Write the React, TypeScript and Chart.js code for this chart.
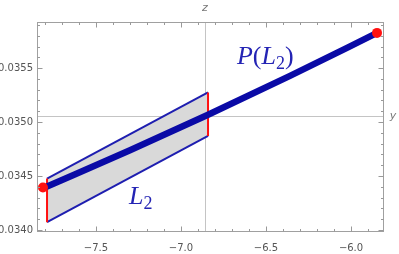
import React, { useEffect, useRef } from 'react';
import { Chart, registerables } from 'chart.js';

Chart.register(...registerables);

// ---- data ----
const xRange = [-7.847, -5.806];
const yRange = [0.033982, 0.035927];
const xTickVals = [-7.5, -7.0, -6.5, -6.0];
const yTickVals = [0.034, 0.0345, 0.035, 0.0355];

// parallelogram L2 corners: top-left, top-right, bottom-right, bottom-left
const polyX = [-7.788, -6.841, -6.841, -7.788];
const polyY = [0.034477, 0.035275, 0.034872, 0.034073];

// projected curve P(L2)
const curveX = [-7.788, -7.3, -6.841, -6.359, -5.847];
const curveY = [0.034404, 0.034739, 0.035068, 0.035428, 0.035826];

// red end points
const dotX = [-7.812, -5.847];
const dotY = [0.034394, 0.035826];

// axes origin (where the gray axis lines cross)
const originX = -6.859;
const originY = 0.03506;

// label anchors (data coords)
const labelPX = -6.671;
const labelPY = 0.035541;
const labelLX = -7.306;
const labelLY = 0.034239;

const BLUE = '#0a0aa6';
const EDGE_BLUE = '#1e1eb0';
const TEXT_BLUE = '#2424b4';
const RED = '#ff1010';

const pts = (xs: number[], ys: number[]) => xs.map((x, i) => ({ x, y: ys[i] }));

export default function App() {
  const ref = useRef<HTMLCanvasElement>(null);
  useEffect(() => {
    const canvas = ref.current!;
    const overlay = {
      id: 'overlay',
      beforeDatasetsDraw(chart: any) {
        const { ctx, chartArea: a, scales } = chart;
        const sx = scales.x, sy = scales.y;
        ctx.save();
        ctx.strokeStyle = '#c4c4c4';
        ctx.lineWidth = 1;
        const ox = Math.round(sx.getPixelForValue(originX)) + 0.5;
        const oy = Math.round(sy.getPixelForValue(originY)) + 0.5;
        ctx.beginPath();
        ctx.moveTo(ox, a.top);
        ctx.lineTo(ox, a.bottom);
        ctx.moveTo(a.left, oy);
        ctx.lineTo(a.right, oy);
        ctx.stroke();
        ctx.restore();
      },
      afterDraw(chart: any) {
        const { ctx, chartArea: a, scales } = chart;
        const sx = scales.x, sy = scales.y;
        ctx.save();
        // frame
        ctx.strokeStyle = '#a0a0a0';
        ctx.lineWidth = 1;
        const L = Math.round(a.left) + 0.5, R = Math.round(a.right) - 0.5;
        const T = Math.round(a.top) + 0.5, B = Math.round(a.bottom) - 0.5;
        ctx.strokeRect(L, T, R - L, B - T);
        // ticks
        ctx.strokeStyle = '#999';
        ctx.beginPath();
        for (let i = -79; i <= -58; i++) {
          const v = i / 10;
          const px = Math.round(sx.getPixelForValue(v)) + 0.5;
          if (px < L || px > R) continue;
          const major = i % 5 === 0;
          const len = major ? 5 : 2.5;
          ctx.moveTo(px, B); ctx.lineTo(px, B - len);
          ctx.moveTo(px, T); ctx.lineTo(px, T + len);
        }
        for (let i = 340; i <= 359; i++) {
          const v = i / 10000;
          const py = Math.round(sy.getPixelForValue(v)) + 0.5;
          if (py < T || py > B) continue;
          const major = i % 5 === 0;
          const len = major ? 5 : 2.5;
          ctx.moveTo(L, py); ctx.lineTo(L + len, py);
          ctx.moveTo(R, py); ctx.lineTo(R - len, py);
        }
        ctx.stroke();
        // axis labels
        const ox = sx.getPixelForValue(originX);
        const oy = sy.getPixelForValue(originY);
        ctx.fillStyle = '#777';
        ctx.font = 'italic 11px "DejaVu Sans", sans-serif';
        ctx.textAlign = 'center';
        ctx.textBaseline = 'middle';
        ctx.fillText('z', ox, 8);
        ctx.fillText('y', 393, oy + 1);
        // P(L2) and L2 labels
        ctx.fillStyle = TEXT_BLUE;
        ctx.textAlign = 'left';
        ctx.textBaseline = 'alphabetic';
        const serif = '"Liberation Serif", "DejaVu Serif", serif';
        const drawParts = (x0: number, y0: number, parts: [string, string, number][]) => {
          let x = x0;
          for (const [txt, font, dy] of parts) {
            ctx.font = font;
            ctx.fillText(txt, x, y0 + dy);
            x += ctx.measureText(txt).width;
          }
        };
        const big = `italic 26px ${serif}`;
        const up = `26px ${serif}`;
        const sub = `18px ${serif}`;
        drawParts(sx.getPixelForValue(labelPX), sy.getPixelForValue(labelPY), [
          ['P', big, 0], ['(', up, 0], ['L', big, 0], ['2', sub, 5], [')', up, 0],
        ]);
        drawParts(sx.getPixelForValue(labelLX), sy.getPixelForValue(labelLY), [
          ['L', big, 0], ['2', sub, 5],
        ]);
        ctx.restore();
      },
    };

    const fillPoly = pts([...polyX, polyX[0]], [...polyY, polyY[0]]);
    const topEdge = pts([polyX[0], polyX[1]], [polyY[0], polyY[1]]);
    const botEdge = pts([polyX[3], polyX[2]], [polyY[3], polyY[2]]);
    const leftEdge = pts([polyX[0], polyX[3]], [polyY[0], polyY[3]]);
    const rightEdge = pts([polyX[1], polyX[2]], [polyY[1], polyY[2]]);

    const lineDs = (data: any[], color: string, width: number, order: number) => ({
      type: 'line' as const,
      data,
      borderColor: color,
      borderWidth: width,
      pointRadius: 0,
      fill: false,
      tension: 0,
      order,
      clip: false as any,
    });

    const chart = new Chart(canvas, {
      type: 'line',
      data: {
        datasets: [
          {
            type: 'line',
            data: pts(dotX, dotY),
            showLine: false,
            pointRadius: 5,
            pointBackgroundColor: RED,
            pointBorderWidth: 0,
            borderColor: RED,
            order: 0,
            clip: false as any,
          },
          {
            ...lineDs(pts(curveX, curveY), BLUE, 6.5, 1),
            cubicInterpolationMode: 'monotone',
            borderCapStyle: 'round',
            borderJoinStyle: 'round',
          },
          lineDs(leftEdge, RED, 2, 2),
          lineDs(rightEdge, RED, 2, 2),
          lineDs(topEdge, EDGE_BLUE, 2, 3),
          lineDs(botEdge, EDGE_BLUE, 2, 3),
          {
            type: 'line',
            data: fillPoly,
            borderWidth: 0,
            borderColor: 'rgba(0,0,0,0)',
            backgroundColor: '#d9d9d9',
            pointRadius: 0,
            fill: 'shape',
            tension: 0,
            order: 4,
          } as any,
        ],
      },
      options: {
        responsive: false,
        animation: false,
        devicePixelRatio: 1,
        layout: { padding: { left: 0, top: 22, right: 15, bottom: 0 } },
        plugins: { legend: { display: false }, tooltip: { enabled: false } },
        scales: {
          x: {
            type: 'linear',
            min: xRange[0],
            max: xRange[1],
            grid: { display: false, drawTicks: false },
            border: { display: false },
            afterBuildTicks: (s: any) => { s.ticks = xTickVals.map((v) => ({ value: v })); },
            afterFit: (s: any) => { s.height = 22; },
            ticks: {
              autoSkip: false,
              maxRotation: 0,
              padding: 10,
              color: '#555',
              font: { family: '"DejaVu Sans", sans-serif', size: 10 },
              callback: (v: any) => Number(v).toFixed(1).replace('-', '\u2212'),
            },
          },
          y: {
            type: 'linear',
            min: yRange[0],
            max: yRange[1],
            grid: { display: false, drawTicks: false },
            border: { display: false },
            afterBuildTicks: (s: any) => { s.ticks = yTickVals.map((v) => ({ value: v })); },
            afterFit: (s: any) => { s.width = 37; },
            ticks: {
              autoSkip: false,
              padding: 4,
              color: '#555',
              font: { family: '"DejaVu Sans", sans-serif', size: 10 },
              callback: (v: any) => Number(v).toFixed(4),
            },
          },
        },
      },
      plugins: [overlay],
    } as any);
    return () => chart.destroy();
  }, []);

  return (
    <div style={{ position: 'fixed', left: 0, top: 0, width: 399, height: 254 }}>
      <canvas ref={ref} width={399} height={254} style={{ display: 'block' }} />
    </div>
  );
}
